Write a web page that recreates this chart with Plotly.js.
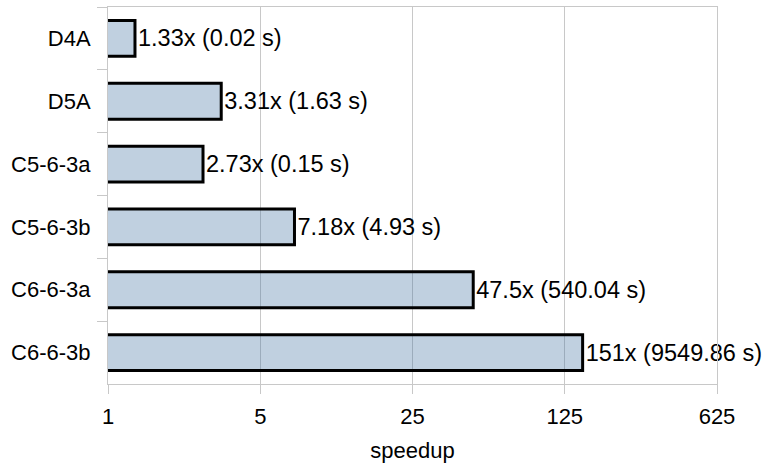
<!DOCTYPE html>
<html>
<head>
<meta charset="utf-8">
<script src="https://cdn.plot.ly/plotly-3.0.1.min.js"></script>
<style>html,body{margin:0;padding:0;background:#fff;}#chart{width:768px;height:466px;}</style>
</head>
<body>
<div id="chart"></div>
<script>
const categories = ['D4A', 'D5A', 'C5-6-3a', 'C5-6-3b', 'C6-6-3a', 'C6-6-3b'];
const speedup = [1.33, 3.31, 2.73, 7.18, 47.5, 151];
const times = [0.02, 1.63, 0.15, 4.93, 540.04, 9549.86];
const tickVals = [1, 5, 25, 125, 625];
const tickText = ['1', '5', '25', '125', '625'];

const labels = speedup.map((s, i) => s + 'x (' + times[i].toFixed(2) + ' s)');
const FONT = 'Liberation Sans, Arial, sans-serif';

const trace = {
  type: 'bar',
  orientation: 'h',
  y: categories,
  x: speedup,
  text: labels,
  textposition: 'outside',
  constraintext: 'none',
  cliponaxis: false,
  textfont: {family: FONT, size: 23.5, color: '#000'},
  width: 0.57,
  marker: {color: 'rgba(75,121,166,0.35)', line: {color: '#000', width: 3}},
  hoverinfo: 'none'
};

const layout = {
  width: 768, height: 466,
  margin: {l: 108, r: 51, t: 7, b: 82},
  paper_bgcolor: '#fff', plot_bgcolor: '#fff',
  showlegend: false,
  font: {family: FONT, size: 22, color: '#000'},
  xaxis: {
    type: 'log',
    range: [0, Math.log10(625)],
    tickvals: tickVals,
    ticktext: tickText,
    showgrid: true, gridcolor: '#c8c8c8', gridwidth: 1,
    showline: true, linecolor: '#c8c8c8', linewidth: 1, mirror: true,
    ticks: 'outside', ticklen: 9, tickcolor: '#c8c8c8',
    ticklabelstandoff: 4,
    tickfont: {family: FONT, size: 22, color: '#000'},
    zeroline: false,
    title: {text: 'speedup', font: {family: FONT, size: 22, color: '#000'}, standoff: 14}
  },
  yaxis: {
    type: 'category',
    categoryorder: 'array', categoryarray: categories,
    autorange: 'reversed',
    showgrid: false,
    showline: true, linecolor: '#c8c8c8', linewidth: 1, mirror: true,
    ticks: 'outside', tickson: 'boundaries', ticklen: 10, tickcolor: '#c8c8c8',
    ticklabelstandoff: 12,
    tickfont: {family: FONT, size: 22, color: '#000'}
  }
};

Plotly.newPlot('chart', [trace], layout, {displayModeBar: false, staticPlot: true});
</script>
</body>
</html>
